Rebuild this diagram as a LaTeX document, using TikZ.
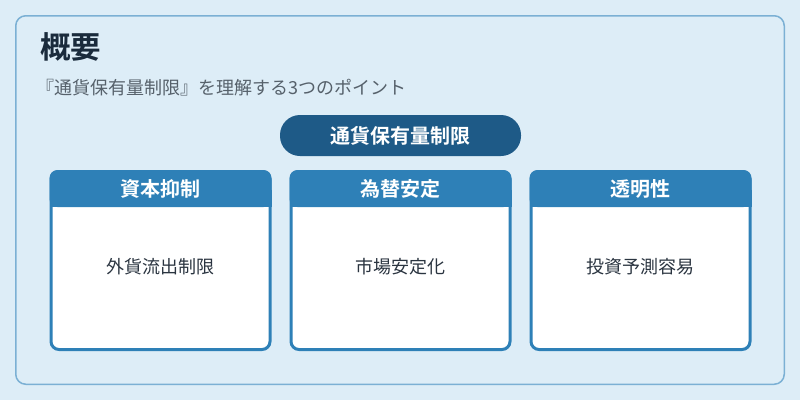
\documentclass[tikz,border=0pt]{standalone}
\usepackage{fontspec}
\setmainfont{Noto Sans CJK JP}
\newfontfamily\jpbold{Noto Sans CJK JP Bold}
\definecolor{bgc}{HTML}{DDEDF7}
\definecolor{outerc}{HTML}{7BB0D4}
\definecolor{titlec}{HTML}{1A2B3C}
\definecolor{subc}{HTML}{56616B}
\definecolor{pillc}{HTML}{1E5A87}
\definecolor{headc}{HTML}{2E80B7}
\definecolor{bodyc}{HTML}{2A3440}
\tikzset{
  outerbox/.style={draw=outerc, line width=1.5pt, rounded corners=10pt, fill=bgc},
  pill/.style={fill=pillc, rounded corners=20pt, minimum width=241pt, minimum height=41pt, inner sep=0pt, text=white, font=\jpbold\fontsize{20}{22}\selectfont},
  cardbody/.style={draw=headc, line width=3pt, fill=white, rounded corners=8pt},
  cardhead/.style={text=white, font=\jpbold\fontsize{20}{22}\selectfont, inner sep=0pt},
  cardtext/.style={text=bodyc, font=\fontsize{18}{20}\selectfont, inner sep=0pt},
}
\begin{document}
\begin{tikzpicture}[x=1pt,y=-1pt]
\useasboundingbox (0,0) rectangle (800,400);
\fill[bgc] (0,0) rectangle (800,400);
\draw[outerbox] (15.75,15.75) rectangle (784.25,384.25);
\node[anchor=west, text=titlec, font=\jpbold\fontsize{30.5}{34}\selectfont, inner sep=0pt] (title) at (40,47) {概要};
\node[anchor=west, text=subc, font=\fontsize{18}{20}\selectfont, inner sep=0pt] (sub) at (36,88) {『通貨保有量制限』を理解する3つのポイント};
\node[pill] (main) at (400.5,135.5) {通貨保有量制限};
\foreach \i/\x/\h/\b in {1/51/資本抑制/外貨流出制限, 2/291/為替安定/市場安定化, 3/531/透明性/投資予測容易}{
  \draw[cardbody] (\x,171.5) rectangle ++(219,178);
  \fill[headc, rounded corners=8pt] (\x-1.5,170) -- (\x-1.5,207) -- (\x+220.5,207) -- (\x+220.5,170) -- cycle;
  \fill[headc] (\x-1.5,190) rectangle (\x+220.5,207);
  \node[cardhead] (h\i) at (\x+109.5,189) {\h};
  \node[cardtext] (t\i) at (\x+109.5,267) {\b};
}
\end{tikzpicture}
\end{document}
